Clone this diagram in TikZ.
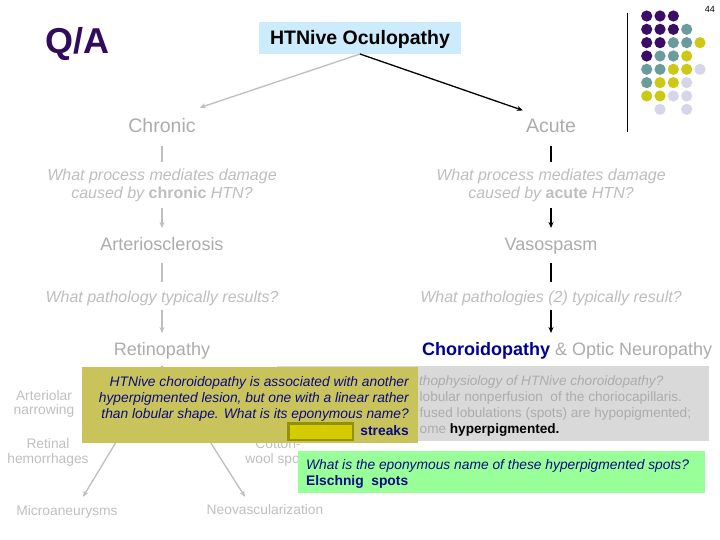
\documentclass[tikz,border=0pt]{standalone}
\usepackage{fontspec}
\setmainfont{Liberation Sans}
\usetikzlibrary{arrows.meta}
\definecolor{qpurple}{RGB}{50,12,92}
\definecolor{tblue}{RGB}{204,235,252}
\definecolor{gtext}{RGB}{172,172,172}
\definecolor{qtext}{RGB}{190,190,190}
\definecolor{ctext}{RGB}{192,192,192}
\definecolor{garr}{RGB}{190,190,190}
\definecolor{chblue}{RGB}{0,0,153}
\definecolor{navy}{RGB}{10,10,130}
\definecolor{gboxc}{RGB}{217,217,217}
\definecolor{gboxt}{RGB}{172,172,172}
\definecolor{olivec}{RGB}{201,195,92}
\definecolor{yelc}{RGB}{212,204,0}
\definecolor{darkolive}{RGB}{150,143,0}
\definecolor{greenc}{RGB}{153,255,153}
\definecolor{dotp}{RGB}{58,14,100}
\definecolor{dott}{RGB}{107,156,156}
\definecolor{doty}{RGB}{205,200,20}
\definecolor{dotl}{RGB}{214,214,234}
\begin{document}
\begin{tikzpicture}[x=1pt,y=-1pt,
  txt/.style={inner sep=0pt, anchor=base},
  bigf/.style={font=\fontsize{19.5}{23}\selectfont},
  midf/.style={font=\fontsize{18}{21}\selectfont},
  qstf/.style={font=\fontsize{16}{18}\selectfont\itshape, text=qtext},
  smf/.style={font=\fontsize{13.8}{16}\selectfont},
  garrow/.style={draw=garr, line width=1.3pt, -{Stealth[length=6pt,width=5pt]}},
  barrow/.style={draw=black, line width=1.3pt, -{Stealth[length=6pt,width=5pt]}},
  gline/.style={draw=garr, line width=1.2pt},
  bline/.style={draw=black, line width=1.2pt},
  boxn/.style={inner sep=0pt, outer sep=0pt}]
\useasboundingbox (0,0) rectangle (720,540);
\fill[white] (0,0) rectangle (720,540);

% heading
\node[txt, anchor=base west, text=qpurple, font=\fontsize{36}{40}\selectfont\bfseries] (qa) at (45,54) {Q/A};
\node[boxn, fill=tblue, minimum width=202pt, minimum height=32pt, text height=14pt, text depth=0pt,
  font=\fontsize{19.5}{22}\selectfont\bfseries] (title) at (360,38) {HTNive Oculopathy};

% decoration
\draw[line width=1pt] (627,12.7) -- (627,131.7);
\foreach \r/\cols in {0/{0/dotp,1/dotp,2/dotp},1/{0/dotp,1/dotp,2/dotp,3/dott},2/{0/dotp,1/dotp,2/dott,3/dott,4/doty},3/{0/dotp,1/dott,2/dott,3/doty},
  4/{0/dott,1/dott,2/doty,3/doty,4/dotl},5/{0/dott,1/doty,2/doty,3/dotl},6/{0/doty,1/doty,2/dotl,3/dotl},7/{1/dotl,3/dotl}}{
  \foreach \c/\k in \cols {
    \fill[fill=\k] (646.7+13.33*\c,16+13.33*\r) circle (5.6pt);
  }
}
\node[txt, anchor=base east, font=\fontsize{9}{10}\selectfont] (pnum) at (715,12.7) {44};

% left column
\node[txt, bigf, text=gtext] (chronic) at (162,133) {Chronic};
\node[txt, qstf] (q1a) at (162,181) {What process mediates damage};
\node[txt, qstf] (q1b) at (162,199) {caused by {\upshape\bfseries chronic} HTN?};
\node[txt, midf, text=gtext] (arterio) at (162,250) {Arteriosclerosis};
\node[txt, qstf] (q3) at (162,302) {What pathology typically results?};
\node[txt, midf, text=gtext] (retino) at (162,355) {Retinopathy};

% right column
\node[txt, bigf, text=gtext] (acute) at (551,133) {Acute};
\node[txt, qstf] (q2a) at (551,181) {What process mediates damage};
\node[txt, qstf] (q2b) at (551,199) {caused by {\upshape\bfseries acute} HTN?};
\node[txt, midf, text=gtext] (vaso) at (551,250) {Vasospasm};
\node[txt, qstf] (q4) at (551,302) {What pathologies (2) typically result?};
\node[txt, anchor=base west, midf, text=gtext] (choroid) at (422,355) {\textcolor{chblue}{\bfseries Choroidopathy} \& Optic Neuropathy};

% top arrows
\draw[garrow] (title.south) -- ([xshift=4pt,yshift=11pt]chronic.north east);
\draw[barrow] (title.south) -- ([xshift=-3pt,yshift=9pt]acute.north west);

% column connectors
\draw[gline, shorten <=13pt, shorten >=19pt] (chronic.base) -- (q1a.base);
\draw[garrow, shorten <=9pt, shorten >=22pt] (q1b.base) -- (arterio.base);
\draw[gline, shorten <=13pt, shorten >=20pt] (arterio.base) -- (q3.base);
\draw[garrow, shorten <=8pt, shorten >=22pt] (q3.base) -- (retino.base);
\draw[bline, shorten <=13pt, shorten >=19pt] (acute.base) -- (q2a.base);
\draw[barrow, shorten <=9pt, shorten >=22pt] (q2b.base) -- (vaso.base);
\draw[bline, shorten <=13pt, shorten >=20pt] (vaso.base) -- (q4.base);
\draw[barrow, shorten <=8pt, shorten >=22pt] (q4.base) -- (choroid.base -| vaso.base);

% retinopathy children
\node[txt, smf, text=ctext] (art1) at (44,400) {Arteriolar};
\node[txt, smf, text=ctext] (art2) at (44,414) {narrowing};
\node[txt, smf, text=ctext] (ret1) at (48,448) {Retinal};
\node[txt, smf, text=ctext] (ret2) at (48,463) {hemorrhages};
\node[txt, smf, text=ctext] (cw1) at (278,448) {Cotton-};
\node[txt, smf, text=ctext] (cw2) at (278,463) {wool spots};
\node[txt, smf, text=ctext] (micro) at (67,515) {Microaneurysms};
\node[txt, smf, text=ctext] (neo) at (265,514) {Neovascularization};
\draw[garrow] ([yshift=-11pt]retino.base) -- ([xshift=16pt,yshift=8pt]micro.north);
\draw[garrow] ([yshift=-11pt]retino.base) -- ([xshift=-20pt,yshift=7pt]neo.north);

% gray box
\node[boxn, fill=gboxc, minimum width=432pt, minimum height=75pt] (graybox) at (493,403.5) {};
\node[txt, anchor=base west, text=gboxt, font=\fontsize{13.6}{16}\selectfont\itshape] (gb1) at (419,385) {thophysiology of HTNive choroidopathy?};
\node[txt, anchor=base west, text=gboxt, font=\fontsize{13.6}{16}\selectfont] (gb2) at (419.5,401) {lobular nonperfusion~ of the choriocapillaris.};
\node[txt, anchor=base west, text=gboxt, font=\fontsize{13.6}{16}\selectfont] (gb3) at (419.5,417) {fused lobulations (spots) are hypopigmented;};
\node[txt, anchor=base west, text=gboxt, font=\fontsize{13.6}{16}\selectfont] (gb4) at (419.5,433) {ome \textcolor{black}{\bfseries hyperpigmented.}};

% olive box
\node[boxn, fill=olivec, minimum width=336pt, minimum height=76pt] (olivebox) at (250,405) {};
\node[txt, anchor=base east, font=\fontsize{13.8}{16}\selectfont\itshape, text=navy] (ol1) at (409,386) {HTNive choroidopathy is associated with another};
\node[txt, anchor=base east, font=\fontsize{13.8}{16}\selectfont\itshape, text=navy] (ol2) at (409,402) {hyperpigmented lesion, but one with a linear rather};
\node[txt, anchor=base east, font=\fontsize{13.8}{16}\selectfont\itshape, text=navy] (ol3) at (409,418) {than lobular shape. What is its eponymous name?};
\node[txt, anchor=base east, font=\fontsize{13.8}{16}\selectfont\bfseries, text=navy] (ol4) at (409,435) {streaks};
\node[boxn, fill=yelc, draw=darkolive, line width=2.5pt, minimum width=64.5pt, minimum height=16.5pt] (blank) at (320.5,431.5) {};

% green box
\node[boxn, fill=greenc, minimum width=407pt, minimum height=42pt] (greenbox) at (501.5,471.5) {};
\node[txt, anchor=base west, font=\fontsize{13.8}{16}\selectfont\itshape, text=navy] (gr1) at (306,469) {What is the eponymous name of these hyperpigmented spots?};
\node[txt, anchor=base west, font=\fontsize{13.8}{16}\selectfont\bfseries, text=navy] (gr2) at (306,485) {Elschnig~ spots};
\end{tikzpicture}
\end{document}
